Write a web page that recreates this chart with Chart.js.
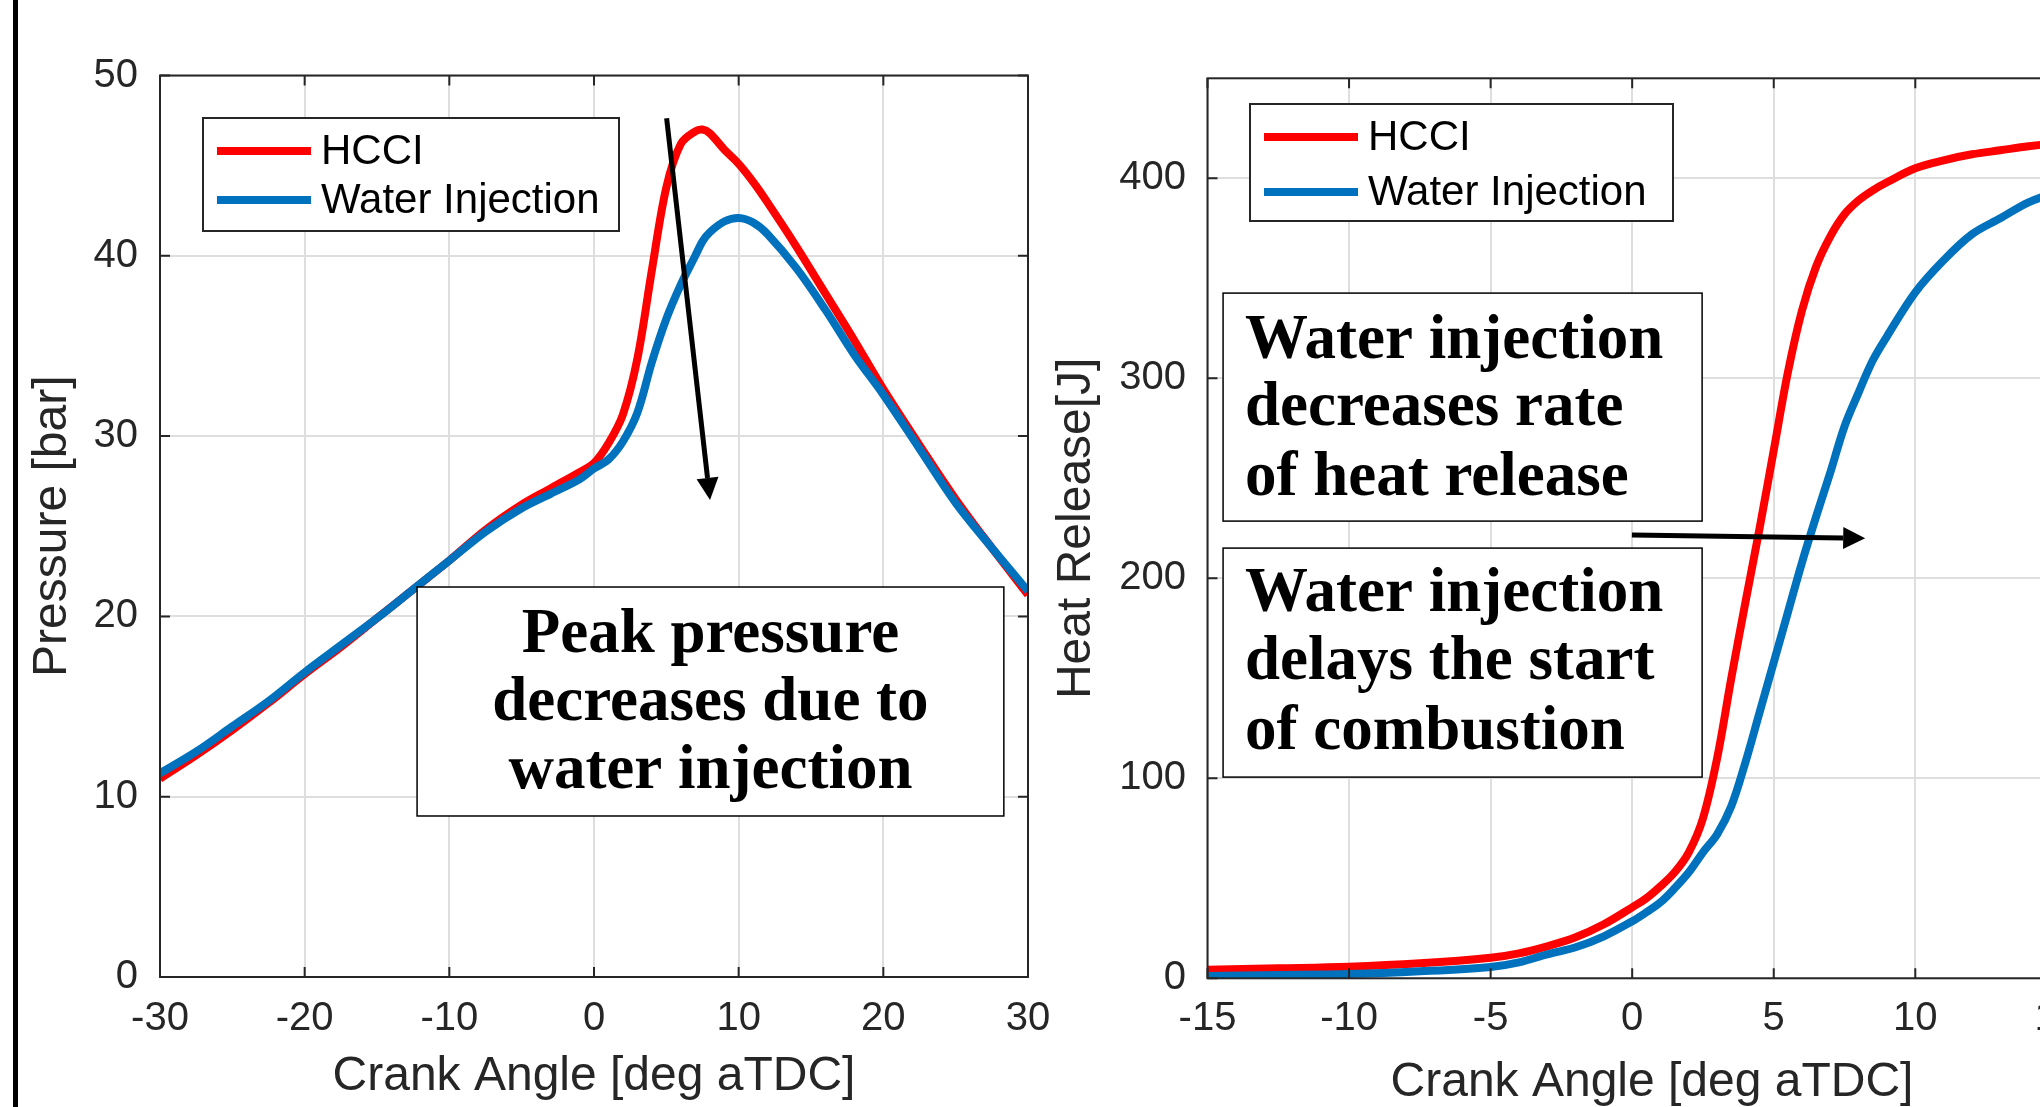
<!DOCTYPE html>
<html>
<head>
<meta charset="utf-8">
<script src="https://cdn.jsdelivr.net/npm/chart.js@4.4.1/dist/chart.umd.min.js"></script>
<style>
  html, body { margin: 0; padding: 0; background: #fff; overflow: hidden; }
  #wrap { position: relative; width: 2040px; height: 1107px; overflow: hidden; background: #fff; }
  canvas { position: absolute; top: 0; }
  #pressureChart { left: 0; }
  #heatChart { left: 1040px; }
</style>
</head>
<body>
<div id="wrap">
  <canvas id="pressureChart" width="1100" height="1107"></canvas>
  <canvas id="heatChart" width="1140" height="1107"></canvas>
</div>
<script>
const seriesNames = ["HCCI", "Water Injection"];
const seriesColors = ["#ff0000", "#0072bd"];

// pressure trace, crank angle in deg aTDC
const pressureAngle = [-30, -27.5, -25, -22.5, -20, -17.5, -15, -12.5, -10, -7.5, -5, -3, -1, 0, 1, 2, 3, 4, 5, 6, 7, 7.5, 8, 9, 10, 11, 12, 14, 16, 18, 20, 22.5, 25, 27.5, 30];
const pressureHCCI = [11.0, 12.3, 13.7, 15.2, 16.8, 18.3, 19.9, 21.5, 23.1, 24.8, 26.2, 27.1, 28.0, 28.5, 29.6, 31.2, 34.3, 39.2, 43.8, 46.2, 46.9, 47.0, 46.8, 45.9, 45.1, 44.1, 42.95, 40.5, 37.9, 35.3, 32.6, 29.5, 26.5, 23.8, 21.2];
const pressureWater = [11.3, 12.5, 13.9, 15.3, 16.9, 18.4, 19.9, 21.5, 23.1, 24.7, 26.0, 26.8, 27.6, 28.2, 28.7, 29.7, 31.3, 34.1, 36.5, 38.4, 40.0, 40.8, 41.3, 41.9, 42.1, 41.85, 41.2, 39.3, 37.0, 34.5, 32.3, 29.3, 26.3, 23.8, 21.4];

// cumulative heat release
const heatAngle = [-15, -12.5, -10, -7.5, -5, -4, -3, -2, -1, 0, 0.5, 1, 1.5, 2, 2.5, 3, 3.5, 4, 4.5, 5, 5.5, 6, 6.5, 7, 7.5, 8, 8.5, 9, 10, 11, 12, 13, 14, 15, 16.4];
const heatHCCI = [4.3, 5.0, 5.8, 7.5, 10.3, 12.5, 16, 20.5, 27, 35.5, 40, 46, 53, 63, 80, 110, 150, 188, 225, 264, 303, 334, 356, 371, 382, 389, 394, 398, 405, 409, 412, 414, 416, 417.5, 419];
const heatWater = [1.2, 1.6, 2.1, 3.5, 5.7, 8, 12, 15.5, 21, 28.5, 33, 38, 45, 53, 63, 72, 86, 108, 133, 158, 183, 208, 231, 253, 276, 293, 309, 321, 343, 359, 372, 380, 388, 393, 398];

const pressureTicksX = [-30, 30, 10];   // min, max, step
const pressureTicksY = [0, 50, 10];
const heatTicksX = [-15, 16.4, 5];
const heatTicksY = [0, 450, 100];

const AXIS_COLOR = "#262626";
const GRID_COLOR = "#dedede";
const SANS = '"Liberation Sans", Arial, sans-serif';
const SERIF = '"Liberation Serif", "Times New Roman", serif';
const TICK_LEN = 10;

function toPoints(xs, ys) {
  return xs.map((x, i) => ({ x: x, y: ys[i] }));
}

// MATLAB style box with inward ticks on all four sides
const boxPlugin = {
  id: "matlabBox",
  afterDatasetsDraw(chart) {
    const { ctx, chartArea: a, scales: { x, y } } = chart;
    ctx.save();
    ctx.strokeStyle = AXIS_COLOR;
    ctx.lineWidth = 2;
    ctx.beginPath();
    x.ticks.forEach((t) => {
      const px = x.getPixelForValue(t.value);
      ctx.moveTo(px, a.bottom);
      ctx.lineTo(px, a.bottom - TICK_LEN);
      ctx.moveTo(px, a.top);
      ctx.lineTo(px, a.top + TICK_LEN);
    });
    y.ticks.forEach((t) => {
      const py = y.getPixelForValue(t.value);
      ctx.moveTo(a.left, py);
      ctx.lineTo(a.left + TICK_LEN, py);
      ctx.moveTo(a.right, py);
      ctx.lineTo(a.right - TICK_LEN, py);
    });
    ctx.stroke();
    ctx.strokeRect(a.left, a.top, a.right - a.left, a.bottom - a.top);
    ctx.restore();
  },
};

function drawArrow(ctx, x1, y1, x2, y2) {
  const ang = Math.atan2(y2 - y1, x2 - x1);
  const headLen = 22;
  const headHalf = 11;
  const bx = x2 - Math.cos(ang) * headLen;
  const by = y2 - Math.sin(ang) * headLen;
  ctx.beginPath();
  ctx.moveTo(x1, y1);
  ctx.lineTo(bx, by);
  ctx.lineWidth = 5;
  ctx.strokeStyle = "#000";
  ctx.stroke();
  ctx.beginPath();
  ctx.moveTo(x2, y2);
  ctx.lineTo(bx + Math.sin(ang) * headHalf, by - Math.cos(ang) * headHalf);
  ctx.lineTo(bx - Math.sin(ang) * headHalf, by + Math.cos(ang) * headHalf);
  ctx.closePath();
  ctx.fillStyle = "#000";
  ctx.fill();
}

// legend box, text boxes and arrows
function overlayPlugin(cfg) {
  return {
    id: "overlay",
    afterDatasetsDraw(chart) {
      const { ctx, chartArea: a, scales: { x, y } } = chart;
      ctx.save();

      if (cfg.leftRule) {
        ctx.fillStyle = "#000";
        ctx.fillRect(13, 0, 5, chart.height);
      }

      // legend
      const lg = cfg.legend;
      const lx = a.left + lg.left;
      const ly = a.top + lg.top;
      ctx.fillStyle = "#fff";
      ctx.fillRect(lx, ly, lg.width, lg.height);
      ctx.strokeStyle = AXIS_COLOR;
      ctx.lineWidth = 2;
      ctx.strokeRect(lx, ly, lg.width, lg.height);
      ctx.font = "42px " + SANS;
      ctx.textBaseline = "middle";
      ctx.textAlign = "left";
      chart.data.datasets.forEach((ds, i) => {
        const ry = ly + lg.rows[i];
        ctx.beginPath();
        ctx.moveTo(lx + 14, ry);
        ctx.lineTo(lx + 108, ry);
        ctx.lineWidth = 8;
        ctx.strokeStyle = ds.borderColor;
        ctx.stroke();
        ctx.fillStyle = "#000";
        ctx.fillText(ds.label, lx + 118, ry + 1);
      });

      // annotation boxes
      cfg.notes.forEach((n) => {
        const x0 = x.getPixelForValue(n.x0);
        const x1 = x.getPixelForValue(n.x1);
        const y0 = y.getPixelForValue(n.y0);
        const y1 = y.getPixelForValue(n.y1);
        ctx.fillStyle = "#fff";
        ctx.fillRect(x0, y0, x1 - x0, y1 - y0);
        ctx.strokeStyle = "#000";
        ctx.lineWidth = 1.5;
        ctx.strokeRect(x0, y0, x1 - x0, y1 - y0);
        ctx.font = "bold 63px " + SERIF;
        ctx.fillStyle = "#000";
        ctx.textBaseline = "alphabetic";
        ctx.textAlign = n.align;
        const tx = n.align === "center" ? (x0 + x1) / 2 : x0 + 22;
        n.lines.forEach((line, i) => {
          ctx.fillText(line, tx, y0 + n.baselines[i]);
        });
      });

      cfg.arrows.forEach((ar) => {
        drawArrow(ctx,
          x.getPixelForValue(ar[0]), y.getPixelForValue(ar[1]),
          x.getPixelForValue(ar[2]), y.getPixelForValue(ar[3]));
      });

      ctx.restore();
    },
  };
}

function makeChart(canvasId, xs, ys1, ys2, opts) {
  const ctx = document.getElementById(canvasId).getContext("2d");
  return new Chart(ctx, {
    type: "line",
    data: {
      datasets: [
        {
          label: seriesNames[0],
          data: toPoints(xs, ys1),
          borderColor: seriesColors[0],
          borderWidth: 8,
          pointRadius: 0,
          tension: 0.35,
          order: 1,
        },
        {
          label: seriesNames[1],
          data: toPoints(xs, ys2),
          borderColor: seriesColors[1],
          borderWidth: 8,
          pointRadius: 0,
          tension: 0.35,
          order: 0,
        },
      ],
    },
    options: {
      responsive: false,
      animation: false,
      devicePixelRatio: 1,
      layout: { padding: opts.padding },
      plugins: {
        legend: { display: false },
        tooltip: { enabled: false },
      },
      scales: {
        x: {
          type: "linear",
          min: opts.xTicks[0],
          max: opts.xTicks[1],
          afterFit: (s) => { s.height = opts.xAxisHeight; },
          ticks: {
            stepSize: opts.xTicks[2],
            autoSkip: false,
            includeBounds: false,
            maxRotation: 0,
            padding: opts.xTickPad,
            color: AXIS_COLOR,
            font: { family: SANS, size: 40 },
          },
          grid: { color: GRID_COLOR, lineWidth: 2, drawTicks: false },
          border: { display: false },
          title: {
            display: true,
            text: "Crank Angle [deg aTDC]",
            color: AXIS_COLOR,
            font: { family: SANS, size: 48, lineHeight: 1 },
            padding: { top: 0, bottom: opts.xTitlePad },
          },
        },
        y: {
          type: "linear",
          min: opts.yTicks[0],
          max: opts.yTicks[1],
          afterFit: (s) => { s.width = opts.yAxisWidth; },
          ticks: {
            stepSize: opts.yTicks[2],
            includeBounds: false,
            padding: opts.yTickPad,
            color: AXIS_COLOR,
            font: { family: SANS, size: 40 },
          },
          grid: { color: GRID_COLOR, lineWidth: 2, drawTicks: false },
          border: { display: false },
          title: {
            display: true,
            text: opts.yTitle,
            color: AXIS_COLOR,
            font: { family: SANS, size: 48, lineHeight: 1 },
            padding: { top: opts.yTitlePad, bottom: 0 },
          },
        },
      },
    },
    plugins: [boxPlugin, overlayPlugin(opts.overlay)],
  });
}

makeChart("pressureChart", pressureAngle, pressureHCCI, pressureWater, {
  padding: { top: 75.5, right: 72, bottom: 0, left: 0 },
  xTicks: pressureTicksX,
  yTicks: pressureTicksY,
  xAxisHeight: 130,
  yAxisWidth: 160,
  xTickPad: 18,
  yTickPad: 22,
  xTitlePad: 6,
  yTitlePad: 29,
  yTitle: "Pressure [bar]",
  overlay: {
    leftRule: true,
    legend: { left: 43, top: 42.5, width: 416, height: 113, rows: [33, 82] },
    notes: [
      {
        x0: -12.23, x1: 28.33, y0: 21.63, y1: 8.93,
        align: "center",
        lines: ["Peak pressure", "decreases due to", "water injection"],
        baselines: [65, 133, 201],
      },
    ],
    arrows: [[5.02, 47.63, 8.02, 26.46]],
  },
});

makeChart("heatChart", heatAngle, heatHCCI, heatWater, {
  padding: { top: 78.3, right: 83.5, bottom: 0, left: 0 },
  xTicks: heatTicksX,
  yTicks: heatTicksY,
  xAxisHeight: 128.7,
  yAxisWidth: 167.5,
  xTickPad: 17,
  yTickPad: 21.5,
  xTitlePad: 0.5,
  yTitlePad: 13,
  yTitle: "Heat Release[J]",
  overlay: {
    leftRule: false,
    legend: { left: 42.5, top: 25.7, width: 423, height: 117, rows: [33, 88] },
    notes: [
      {
        x0: -14.45, x1: 2.47, y0: 342.6, y1: 228.6,
        align: "left",
        lines: ["Water injection", "decreases rate", "of heat release"],
        baselines: [65, 132, 201.5],
      },
      {
        x0: -14.45, x1: 2.47, y0: 215.1, y1: 100.6,
        align: "left",
        lines: ["Water injection", "delays the start", "of combustion"],
        baselines: [62.5, 131, 201],
      },
    ],
    arrows: [[-0.01, 221.6, 8.23, 220]],
  },
});
</script>
</body>
</html>
